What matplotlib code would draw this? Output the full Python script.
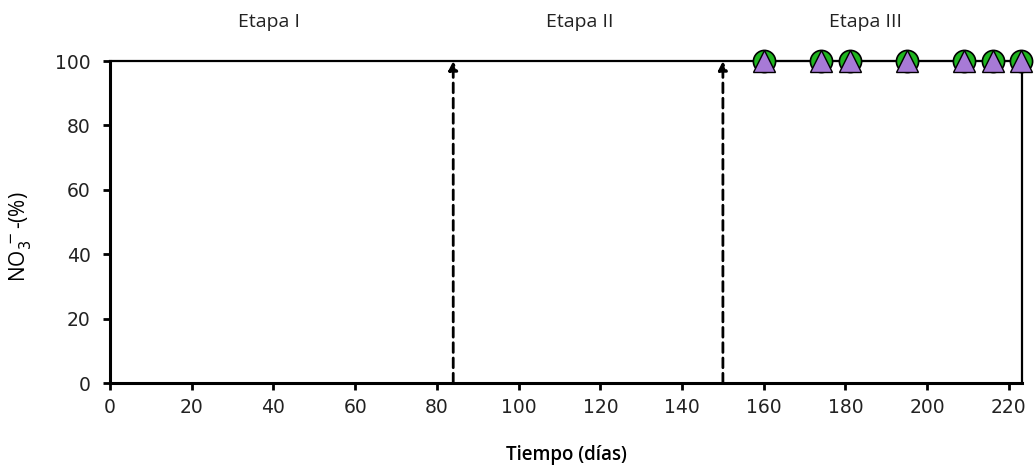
import matplotlib
matplotlib.use("Agg")
import matplotlib.pyplot as plt

# Data
dias = [160, 174, 181, 195, 209, 216, 223]
nitrato_a = [100, 100, 100, 100, 100, 100, 100]
nitrato_b = [100, 100, 100, 100, 100, 100, 100]
cambios_etapa = [84, 150]
etapas = ["Etapa I", "Etapa II", "Etapa III"]
etapas_x = [39, 115, 185]
x_ticks = list(range(0, 221, 20))
y_ticks = list(range(0, 101, 20))

plt.rcParams['font.family'] = ['Open Sans', 'DejaVu Sans']

fig = plt.figure(figsize=(10.35, 4.69), dpi=100)
ax = fig.add_axes([110/1035, 86/469, (1022-110)/1035, (383-61)/469])

ax.set_xlim(0, 223.2)
ax.set_ylim(0, 100)
ax.set_xticks(x_ticks)
ax.set_yticks(y_ticks)
ax.tick_params(direction='out', length=5, width=2, labelsize=13.5, colors='black')
ax.tick_params(axis='y', pad=9)
ax.tick_params(axis='x', pad=6)
for lbl in ax.get_xticklabels() + ax.get_yticklabels():
    lbl.set_family('DejaVu Sans')
    lbl.set_color('#222222')

for s in ['left', 'bottom']:
    ax.spines[s].set_linewidth(2.2)
for s in ['top', 'right']:
    ax.spines[s].set_linewidth(1.6)

ax.plot(dias, nitrato_a, color='black', lw=1.5, zorder=3, clip_on=False)
ax.plot(dias, nitrato_a, 'o', ms=16, mfc='#1fb51f', mec='black', mew=1.2,
        zorder=4, clip_on=False)
ax.plot(dias, nitrato_b, '^', ms=16, mfc='#a77ad6', mec='black', mew=1.0,
        zorder=5, clip_on=False)

for xc in cambios_etapa:
    ax.annotate('', xy=(xc, 100), xytext=(xc, 0),
                arrowprops=dict(arrowstyle='-|>', color='black', lw=2,
                                linestyle=(0, (3.5, 2)), mutation_scale=13,
                                shrinkA=0, shrinkB=0))

for txt, xe in zip(etapas, etapas_x):
    ax.text(xe, 1.12, txt, transform=ax.get_xaxis_transform(),
            ha='center', va='center', fontsize=14, color='#222222',
            family='Open Sans')

ax.set_xlabel('Tiempo (días)', fontsize=13.5, fontweight='semibold', labelpad=20)
ax.set_ylabel(r'NO$_3^{\,-}$-(%)', fontsize=15)
ax.yaxis.set_label_coords(-0.084, 0.453)

fig.savefig('out.png', dpi=100)
